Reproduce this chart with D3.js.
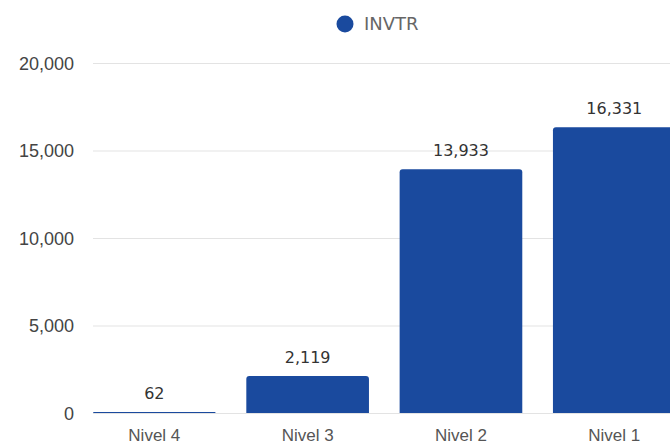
<!DOCTYPE html>
<html><head><meta charset="utf-8">
<script src="https://cdn.jsdelivr.net/npm/d3@7/dist/d3.min.js"></script>
<style>
html,body{margin:0;padding:0;background:#fff;overflow:hidden}
svg{display:block;font-family:"DejaVu Sans","Open Sans",sans-serif}
</style></head><body>
<svg id="c" width="670" height="446"></svg>
<script>
const categories = ["Nivel 4", "Nivel 3", "Nivel 2", "Nivel 1"];
const values = [62, 2119, 13933, 16331];
const seriesName = "INVTR";
const yTicks = [0, 5000, 10000, 15000, 20000];

const svg = d3.select("#c");
const color = "#1a4a9e";
const mLeft = 93, mTop = 63, mBottom = 413;
const x = d3.scaleBand().domain(categories).range([mLeft, mLeft + 582.6]).paddingInner(0.2).paddingOuter(0);
const y = d3.scaleLinear().domain([0, 20000]).range([mBottom, mTop]);
const fmt = d3.format(",");

// grid
const yAxis = d3.axisLeft(y).tickValues(yTicks).tickSize(-(670 - mLeft)).tickFormat(fmt).tickPadding(19);
const gy = svg.append("g").attr("transform", `translate(${mLeft},0)`).call(yAxis);
gy.select(".domain").remove();
gy.selectAll(".tick line").attr("stroke", "#e3e3e3").attr("stroke-width", 1);
gy.selectAll(".tick text").attr("fill", "#444").style("font-size", "18px").attr("dy", "0.35em");

// bars with rounded tops
const r = 3;
function barPath(x0, w, y0, yb) {
  const h = yb - y0;
  const rr = Math.min(r, h, w / 2);
  return `M${x0},${yb}V${y0 + rr}Q${x0},${y0} ${x0 + rr},${y0}H${x0 + w - rr}Q${x0 + w},${y0} ${x0 + w},${y0 + rr}V${yb}Z`;
}
svg.append("g").selectAll("path").data(values).join("path")
  .attr("d", (d, i) => {
    const yt = Math.min(y(d), mBottom - 1);
    return barPath(x(categories[i]), x.bandwidth(), yt, mBottom);
  })
  .attr("fill", color);

// value labels
svg.append("g").selectAll("text").data(values).join("text")
  .attr("x", (d, i) => x(categories[i]) + x.bandwidth() / 2)
  .attr("y", d => y(d) - 13)
  .attr("text-anchor", "middle")
  .attr("fill", "#333")
  .style("font-size", "16px")
  .text(d => fmt(d));

// x axis labels
const xAxis = d3.axisBottom(x).tickSize(0).tickPadding(0);
const gx = svg.append("g").attr("transform", `translate(0,${mBottom})`).call(xAxis);
gx.select(".domain").remove();
gx.selectAll(".tick text").attr("fill", "#555").style("font-size", "17px").attr("dy", null).attr("y", 28);

// legend
const lg = svg.append("g");
lg.append("circle").attr("cx", 345).attr("cy", 24).attr("r", 8.5).attr("fill", color);
lg.append("text").attr("x", 364).attr("y", 30).attr("fill", "#666").style("font-size", "18px").text(seriesName);
</script>
</body></html>
